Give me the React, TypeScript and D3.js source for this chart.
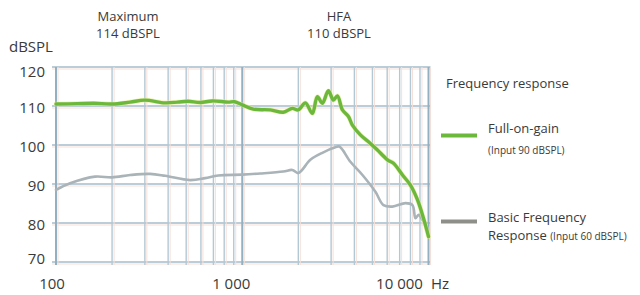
import React from "react";
import * as d3 from "d3";

const yTicks = [70, 80, 90, 100, 110, 120];
const xTickValues = [100, 1000, 10000];
const xTickLabels = ["100", "1 000", "10 000"];
const gridFreqs = [
  100, 200, 300, 400, 500, 600, 700, 800, 900,
  1000, 2000, 3000, 4000, 5000, 6000, 7000, 8000, 9000, 10000,
];

// Full-on-gain (Input 90 dBSPL)
const fogFreq = [
  100, 130, 160, 200, 250, 300, 385, 450, 512, 595, 690, 840, 910, 1000,
  1146, 1415, 1661, 1857, 2000, 2183, 2378, 2531, 2692, 2900, 3085, 3243,
  3450, 3716, 3903, 4308, 4876, 5320, 6023, 6486, 7251, 8000, 8730, 9400, 10000,
];
const fogDb = [
  110.5, 110.6, 110.7, 110.5, 111.0, 111.5, 110.8, 111.0, 111.2, 110.9, 111.3, 111.0, 111.1, 110.3,
  109.2, 109.0, 108.4, 109.4, 109.0, 110.8, 108.1, 112.4, 110.7, 113.9, 111.5, 112.6,
  109.0, 107.3, 105.1, 102.6, 100.4, 98.7, 96.2, 95.3, 92.3, 89.7, 85.9, 81.2, 76.5,
];

// Basic Frequency Response (Input 60 dBSPL)
const bfrFreq = [
  100, 119, 162, 200, 250, 320, 386, 525, 632, 743, 1000, 1250, 1661, 1857,
  2000, 2321, 2692, 3162, 3323, 3808, 4420, 5188, 5728, 6400, 7520, 8200,
  8510, 8840, 9290, 9640,
];
const bfrDb = [
  88.5, 90.2, 91.9, 91.7, 92.3, 92.6, 92.1, 91.0, 91.5, 92.2, 92.4, 92.7, 93.2, 93.6,
  92.8, 96.2, 98.0, 99.4, 99.6, 95.7, 92.3, 88.0, 84.6, 84.2, 85.1, 84.6,
  81.2, 82.1, 80.8, 80.0,
];

const W = 640;
const H = 295;
const FONT = "'Open Sans', 'Noto Sans', sans-serif";
const TEXT = "#3a3a3a";

export default function App() {
  const x = d3.scaleLog().domain([100, 10000]).range([56, 428.5]);
  const y = d3.scaleLinear().domain([70, 120]).range([262, 67]);

  const line = d3
    .line<[number, number]>()
    .x((d) => x(d[0]))
    .y((d) => y(d[1]))
    .curve(d3.curveCatmullRom.alpha(0.5));

  const fog: [number, number][] = fogFreq.map((f, i) => [f, fogDb[i]]);
  const bfr: [number, number][] = bfrFreq.map((f, i) => [f, bfrDb[i]]);

  const labelDx = [-4, -11, -29];
  const x0 = x(100);
  const x1 = x(10000);

  return (
    <svg
      width={W}
      height={H}
      style={{ position: "absolute", left: 0, top: 0, background: "#fff" }}
      fontFamily={FONT}
    >
      {/* grid: horizontal */}
      {yTicks.map((t) => (
        <g key={"h" + t}>
          <line x1={x0 - 4} x2={x1 + 2} y1={y(t) + 2} y2={y(t) + 2} stroke="#f6dfd8" strokeWidth={1} />
          <line x1={x0 - 4} x2={x1 + 2} y1={y(t)} y2={y(t)} stroke="#a4bccb" strokeWidth={1.6} />
        </g>
      ))}
      {/* grid: vertical */}
      {gridFreqs.map((f) => {
        const major = f === 100 || f === 1000 || f === 10000;
        return (
          <g key={"v" + f}>
            <line x1={x(f) + 2} x2={x(f) + 2} y1={y(120)} y2={y(70) + 3} stroke="#f6dfd8" strokeWidth={1} />
            <line
              x1={x(f)}
              x2={x(f)}
              y1={y(120)}
              y2={y(70) + 3}
              stroke={major ? "#93b0c2" : "#b3c8d5"}
              strokeWidth={major ? 2 : 1.4}
            />
          </g>
        );
      })}

      {/* curves */}
      <path d={line(bfr) || ""} fill="none" stroke="#a9b3b8" strokeWidth={2.6} strokeLinejoin="round" strokeLinecap="round" />
      <path d={line(fog) || ""} fill="none" stroke="#e9ec9a" strokeWidth={4.6} strokeLinejoin="round" strokeLinecap="round" opacity={0.7} />
      <path d={line(fog) || ""} fill="none" stroke="#6cb83c" strokeWidth={3.4} strokeLinejoin="round" strokeLinecap="round" />

      {/* y tick labels */}
      {yTicks.map((t) => (
        <text
          key={"yl" + t}
          x={45}
          y={y(t) + (t === 120 ? 4 : t === 70 ? -4 : 1)}
          textAnchor="end"
          dominantBaseline="central"
          fontSize={15}
          fill={TEXT}
        >
          {t}
        </text>
      ))}

      {/* x tick labels */}
      {xTickValues.map((v, i) => (
        <text key={"xl" + v} x={x(v) + labelDx[i]} y={289} textAnchor="middle" fontSize={15} fill={TEXT}>
          {xTickLabels[i]}
        </text>
      ))}
      <text x={431} y={289} fontSize={15} fill={TEXT}>
        Hz
      </text>

      {/* axis unit */}
      <text x={9} y={52} fontSize={15} fill={TEXT}>
        dBSPL
      </text>

      {/* annotations */}
      <text x={128} y={21} textAnchor="middle" fontSize={13} fill={TEXT}>
        Maximum
      </text>
      <text x={128} y={38} textAnchor="middle" fontSize={13} fill={TEXT}>
        114 dBSPL
      </text>
      <text x={339} y={21} textAnchor="middle" fontSize={13} fill={TEXT}>
        HFA
      </text>
      <text x={339} y={38} textAnchor="middle" fontSize={13} fill={TEXT}>
        110 dBSPL
      </text>

      {/* legend */}
      <text x={446} y={88} fontSize={13} fill={TEXT}>
        Frequency response
      </text>
      <line x1={441} x2={477} y1={135.5} y2={135.5} stroke="#6cb83c" strokeWidth={4} />
      <text x={488} y={133} fontSize={13} fill={TEXT}>
        Full-on-gain
      </text>
      <text x={488} y={154} fontSize={10} fill={TEXT}>
        (Input 90 dBSPL)
      </text>
      <line x1={441} x2={477} y1={221.5} y2={221.5} stroke="#8f8f89" strokeWidth={4} />
      <text x={488} y={222} fontSize={13} fill={TEXT}>
        Basic Frequency
      </text>
      <text x={488} y={240} fontSize={13} fill={TEXT}>
        Response <tspan fontSize={10}>(Input 60 dBSPL)</tspan>
      </text>
    </svg>
  );
}
